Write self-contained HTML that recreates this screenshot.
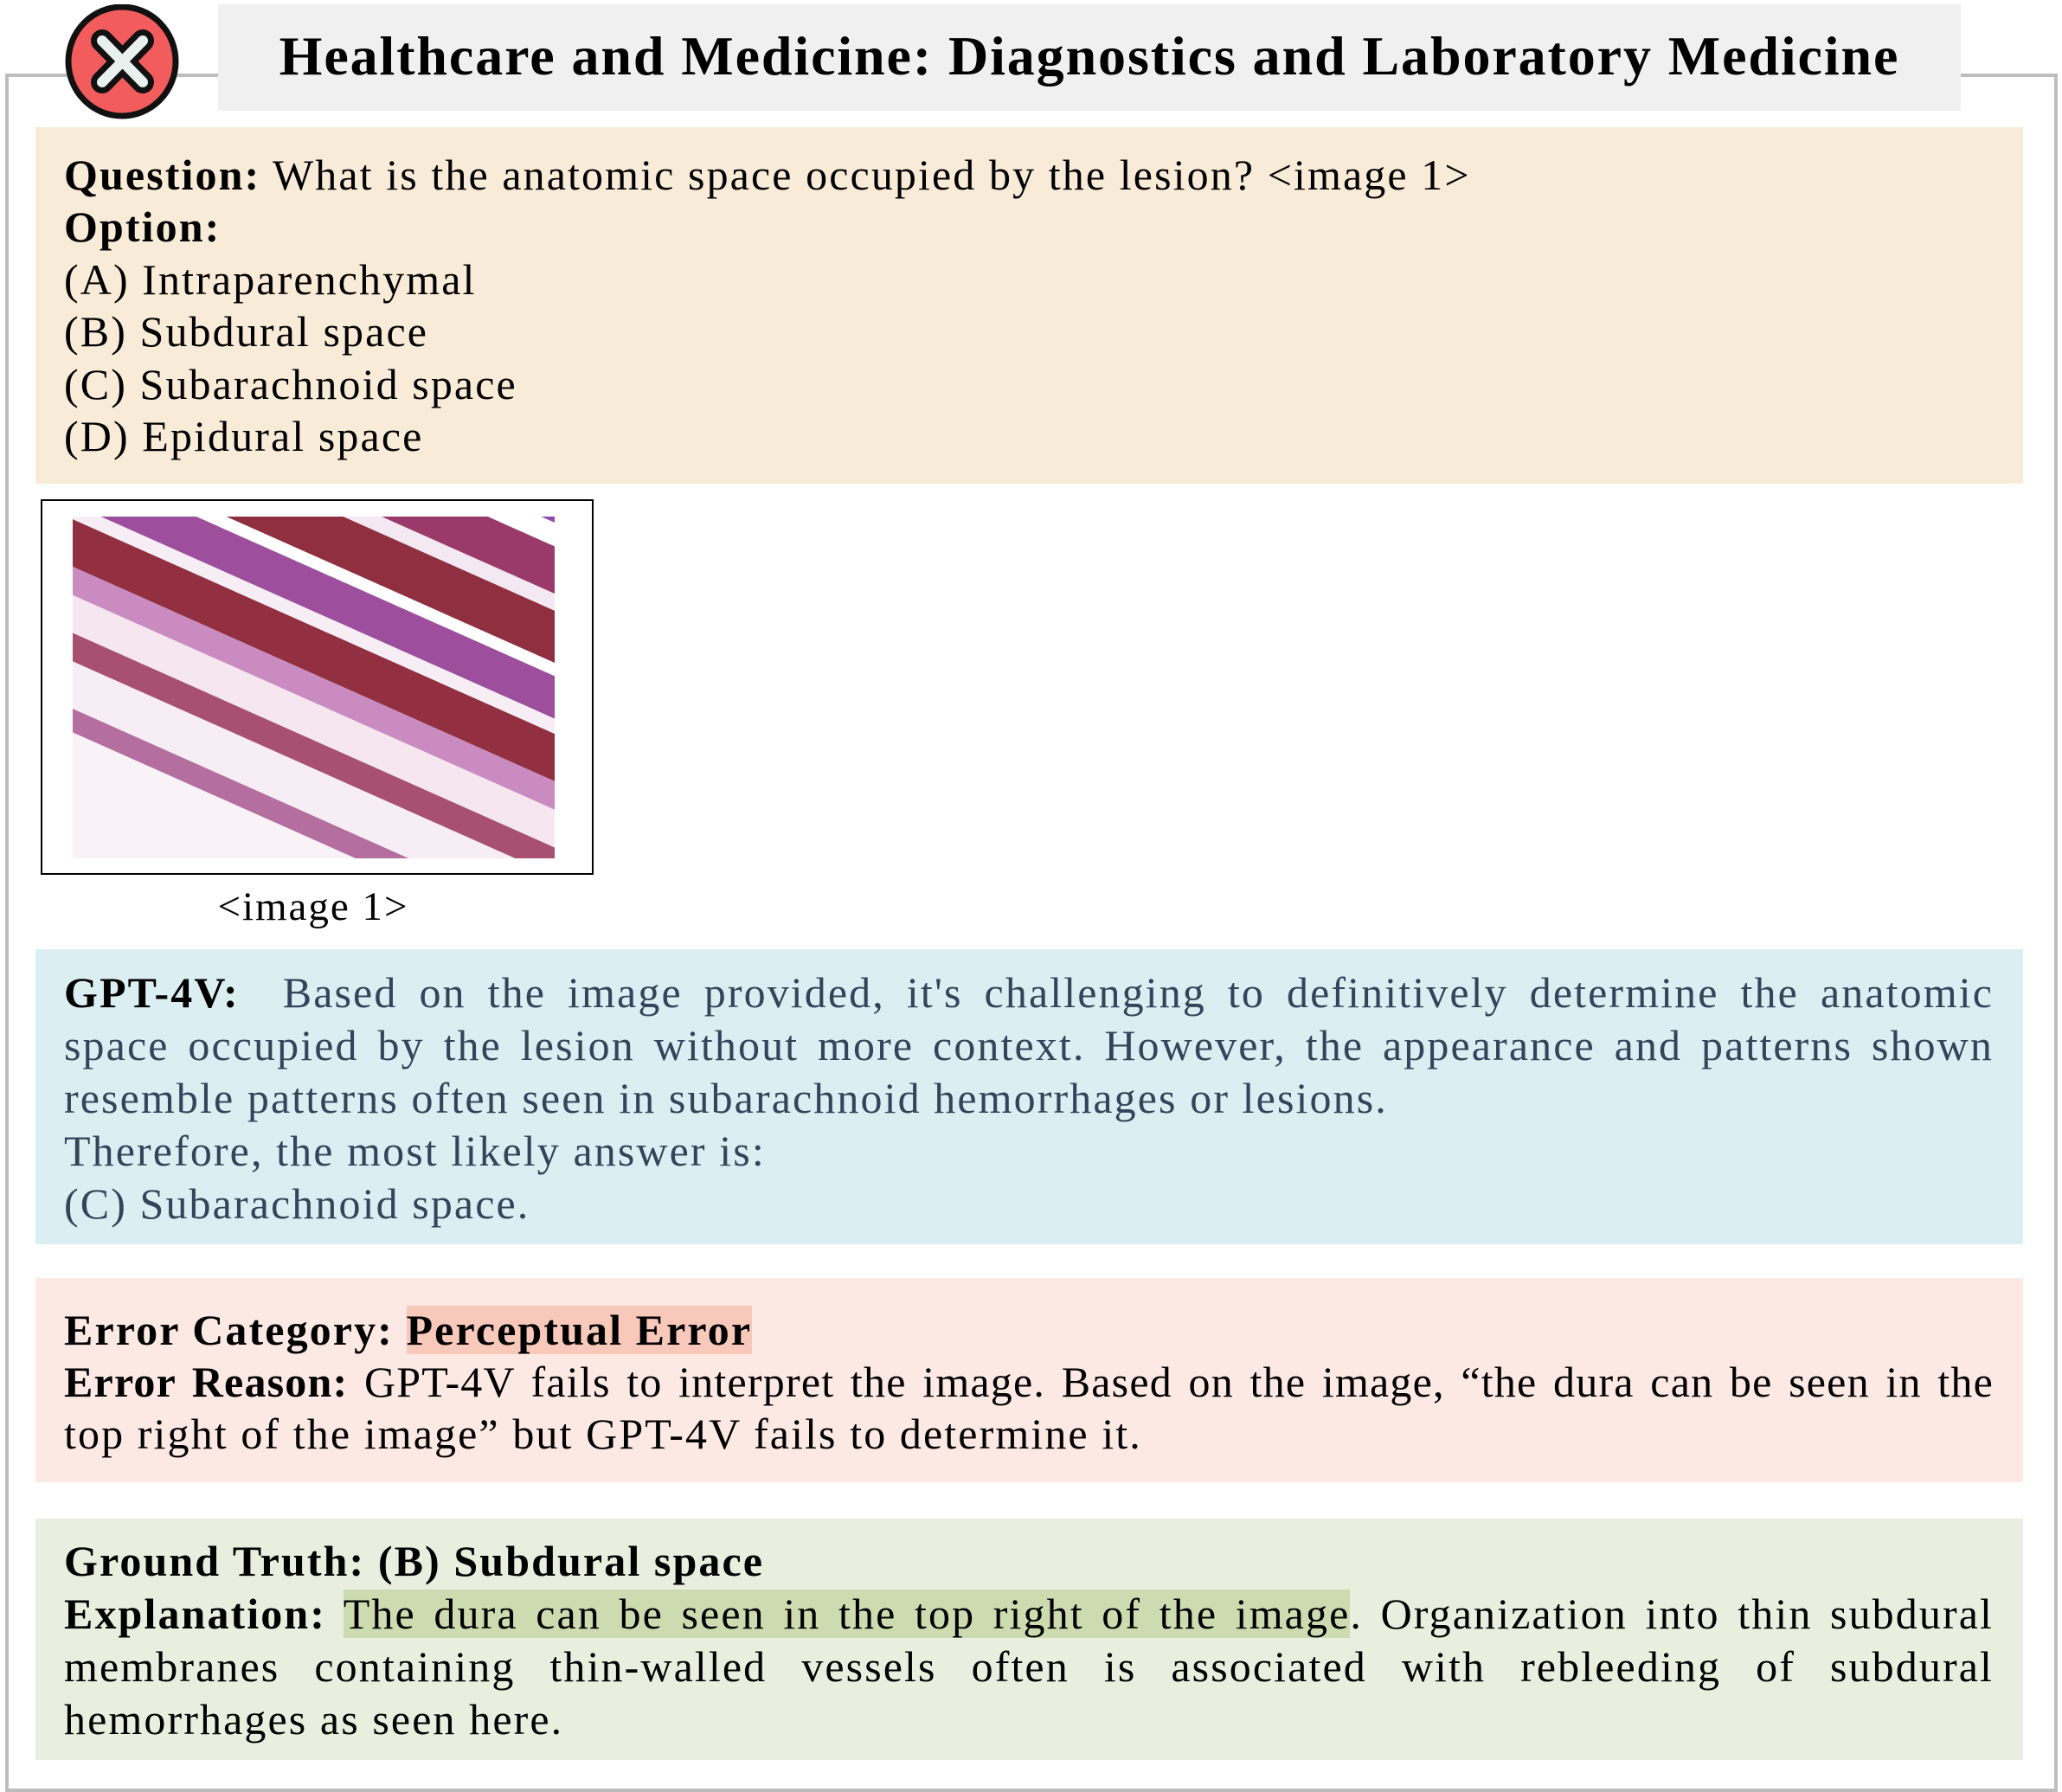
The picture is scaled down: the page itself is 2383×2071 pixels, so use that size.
<!DOCTYPE html>
<html><head><meta charset="utf-8"><style>
html,body{margin:0;padding:0;background:#fff}
body{width:2383px;height:2071px;position:relative;overflow:hidden;font-family:"Liberation Serif",serif;color:#000}
.abs{position:absolute}
.box{position:absolute;left:41px;width:2297px}
.ln{position:absolute;left:74px;width:2230px;font-size:50px;line-height:60px;white-space:nowrap;letter-spacing:2.1px}
.j{text-align:justify;text-align-last:justify;white-space:normal}
b{font-weight:bold}
</style></head><body>
<div class="abs" style="left:6px;top:85px;width:2364px;height:1978px;border:4px solid #bdbdbd"></div>
<div class="abs" style="left:252px;top:5px;width:2014px;height:123px;background:#f0f0f0"></div>
<div class="abs" style="left:252px;top:30px;width:2014px;text-align:center;font-size:64px;font-weight:bold;line-height:70px;letter-spacing:1.9px">Healthcare and Medicine: Diagnostics and Laboratory Medicine</div>
<svg class="abs" style="left:70px;top:5px" width="145" height="140">
<ellipse cx="71" cy="66" rx="62" ry="63" fill="#f25c5c" stroke="#111" stroke-width="7"/>
<path d="M48 42 L95 90 M95 42 L48 90" stroke="#111" stroke-width="26" stroke-linecap="round"/>
<path d="M48 42 L95 90 M95 42 L48 90" stroke="#e9f1ef" stroke-width="12" stroke-linecap="round"/>
</svg>

<div class="box" style="top:147px;height:412px;background:#f8ebd7"></div>
<div class="ln" style="top:172px"><b>Question:</b> What is the anatomic space occupied by the lesion? &lt;image 1&gt;</div>
<div class="ln" style="top:232px"><b>Option:</b></div>
<div class="ln" style="top:293px">(A) Intraparenchymal</div>
<div class="ln" style="top:353px">(B) Subdural space</div>
<div class="ln" style="top:414px">(C) Subarachnoid space</div>
<div class="ln" style="top:474px">(D) Epidural space</div>

<div class="abs" style="left:47px;top:577px;width:635px;height:430px;border:2px solid #000"></div>
<svg class="abs" style="left:84px;top:597px" width="557" height="395" viewBox="0 0 557 395">
<rect width="557" height="395" fill="#f6eef4"/>
<g transform="rotate(24 278 197)">
<rect x="-200" y="-150" width="1000" height="60" fill="#8e4ab0"/>
<rect x="-200" y="-90" width="1000" height="25" fill="#fff"/>
<rect x="-200" y="-65" width="1000" height="50" fill="#9a3a6a"/>
<rect x="-200" y="-15" width="1000" height="18" fill="#f4e8f2"/>
<rect x="-200" y="3" width="1000" height="55" fill="#8f2f3f"/>
<rect x="-200" y="58" width="1000" height="14" fill="#fff"/>
<rect x="-200" y="72" width="1000" height="45" fill="#9d4f9e"/>
<rect x="-200" y="117" width="1000" height="16" fill="#f7eef5"/>
<rect x="-200" y="133" width="1000" height="50" fill="#922f40"/>
<rect x="-200" y="183" width="1000" height="30" fill="#c98bc0"/>
<rect x="-200" y="213" width="1000" height="40" fill="#f5e6f0"/>
<rect x="-200" y="253" width="1000" height="30" fill="#a8506f"/>
<rect x="-200" y="283" width="1000" height="50" fill="#f7eef5"/>
<rect x="-200" y="333" width="1000" height="25" fill="#b46e9f"/>
<rect x="-200" y="358" width="1000" height="200" fill="#f9f3f7"/>
</g>
</svg>
<div class="abs" style="left:162px;top:1020px;width:400px;text-align:center;font-size:47px;line-height:56px;letter-spacing:2px">&lt;image 1&gt;</div>

<div class="box" style="top:1097px;height:341px;background:#dbeef1"></div>
<div style="color:#34445a">
<div class="ln j" style="top:1117px"><b style="color:#000">GPT-4V:</b>&nbsp; Based on the image provided, it's challenging to definitively determine the anatomic</div>
<div class="ln j" style="top:1178px">space occupied by the lesion without more context. However, the appearance and patterns shown</div>
<div class="ln" style="top:1239px">resemble patterns often seen in subarachnoid hemorrhages or lesions.</div>
<div class="ln" style="top:1300px">Therefore, the most likely answer is:</div>
<div class="ln" style="top:1361px">(C) Subarachnoid space.</div>
</div>

<div class="box" style="top:1477px;height:236px;background:#fce9e4"></div>
<div class="ln" style="top:1507px"><b>Error Category: <span style="background:#f8c8bb">Perceptual Error</span></b></div>
<div class="ln j" style="top:1567px;letter-spacing:1.2px;white-space:nowrap"><b>Error Reason:</b> GPT-4V fails to interpret the image. Based on the image, “the dura can be seen in the</div>
<div class="ln" style="top:1627px">top right of the image” but GPT-4V fails to determine it.</div>

<div class="box" style="top:1755px;height:279px;background:#eaeedf"></div>
<div class="ln" style="top:1774px"><b>Ground Truth: (B) Subdural space</b></div>
<div class="ln j" style="top:1835px"><b>Explanation:</b> <span style="background:#cddcb0">The dura can be seen in the top right of the image</span>. Organization into thin subdural</div>
<div class="ln j" style="top:1896px">membranes containing thin-walled vessels often is associated with rebleeding of subdural</div>
<div class="ln" style="top:1957px">hemorrhages as seen here.</div>
</body></html>
